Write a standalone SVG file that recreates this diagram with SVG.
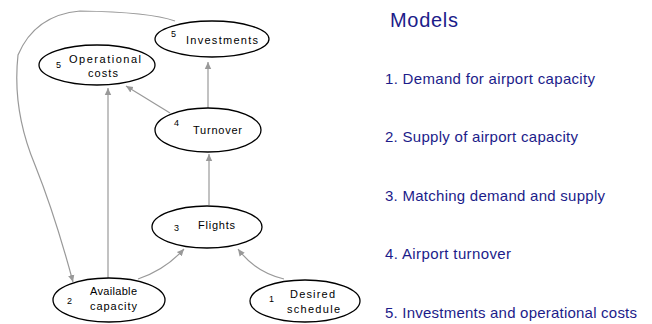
<svg xmlns="http://www.w3.org/2000/svg" width="652" height="324" viewBox="0 0 652 324">
<style>
.node ellipse{fill:#fff;stroke:#000;stroke-width:1.3}
.lbl{font-family:"Liberation Sans",Arial,sans-serif;font-size:11px;fill:#000}
.num{font-family:"Liberation Sans",Arial,sans-serif;font-size:9px;fill:#000}
.conn path{fill:none;stroke:#999;stroke-width:1.2}
.side{font-family:"Liberation Sans",Arial,sans-serif;fill:#1c1c8a}
</style>
<defs>
<marker id="ah" markerWidth="8" markerHeight="8" refX="7" refY="4" orient="auto" markerUnits="userSpaceOnUse">
<path d="M0,0.8 L7,4 L0,7.2 Z" fill="#999"/>
</marker>
</defs>
<rect width="652" height="324" fill="#fff"/>
<g class="conn">
<path d="M208,108 L208,62" marker-end="url(#ah)"/>
<path d="M170,113 L126,86" marker-end="url(#ah)"/>
<path d="M108,278 L108,88" marker-end="url(#ah)"/>
<path d="M209,205 L209,154" marker-end="url(#ah)"/>
<path d="M138,279 Q165,270 184,249" marker-end="url(#ah)"/>
<path d="M284,279 Q255,272 238,249" marker-end="url(#ah)"/>
<path d="M175,21 Q150,12 80,11 Q35,15 18,55 Q12,110 35,165 Q55,215 73,282" marker-end="url(#ah)"/>
</g>
<g id="n5i" class="node"><ellipse cx="212" cy="39" rx="57" ry="18"/><text class="num" x="171" y="37">5</text><text class="lbl" x="186" y="44" textLength="72" lengthAdjust="spacing">Investments</text></g>
<g id="n5o" class="node"><ellipse cx="97" cy="65" rx="58" ry="20"/><text class="num" x="56" y="68">5</text><text class="lbl" x="69" y="63" textLength="72" lengthAdjust="spacing">Operational</text><text class="lbl" x="88" y="77" textLength="30" lengthAdjust="spacing">costs</text></g>
<g id="n4" class="node"><ellipse cx="208" cy="130" rx="53" ry="22"/><text class="num" x="174" y="126">4</text><text class="lbl" x="193" y="134" textLength="49" lengthAdjust="spacing">Turnover</text></g>
<g id="n3" class="node"><ellipse cx="207" cy="227" rx="55" ry="21"/><text class="num" x="174" y="231">3</text><text class="lbl" x="198" y="229" textLength="37" lengthAdjust="spacing">Flights</text></g>
<g id="n2" class="node"><ellipse cx="109" cy="300" rx="56" ry="22"/><text class="num" x="67" y="304">2</text><text class="lbl" x="90" y="295" textLength="47" lengthAdjust="spacing">Available</text><text class="lbl" x="90" y="310" textLength="47" lengthAdjust="spacing">capacity</text></g>
<g id="n1" class="node"><ellipse cx="305" cy="301" rx="55" ry="21"/><text class="num" x="269" y="302">1</text><text class="lbl" x="290" y="298" textLength="45" lengthAdjust="spacing">Desired</text><text class="lbl" x="287" y="313" textLength="53" lengthAdjust="spacing">schedule</text></g>
<g id="legend">
<text class="side" x="390" y="27" font-size="20" textLength="68" lengthAdjust="spacing">Models</text>
<text class="side" x="385" y="84" font-size="15" textLength="210" lengthAdjust="spacing">1. Demand for airport capacity</text>
<text class="side" x="385" y="142" font-size="15" textLength="193" lengthAdjust="spacing">2. Supply of airport capacity</text>
<text class="side" x="385" y="201" font-size="15" textLength="220" lengthAdjust="spacing">3. Matching demand and supply</text>
<text class="side" x="385" y="259" font-size="15" textLength="126" lengthAdjust="spacing">4. Airport turnover</text>
<text class="side" x="385" y="318" font-size="15" textLength="252" lengthAdjust="spacing">5. Investments and operational costs</text>
</g>
</svg>
